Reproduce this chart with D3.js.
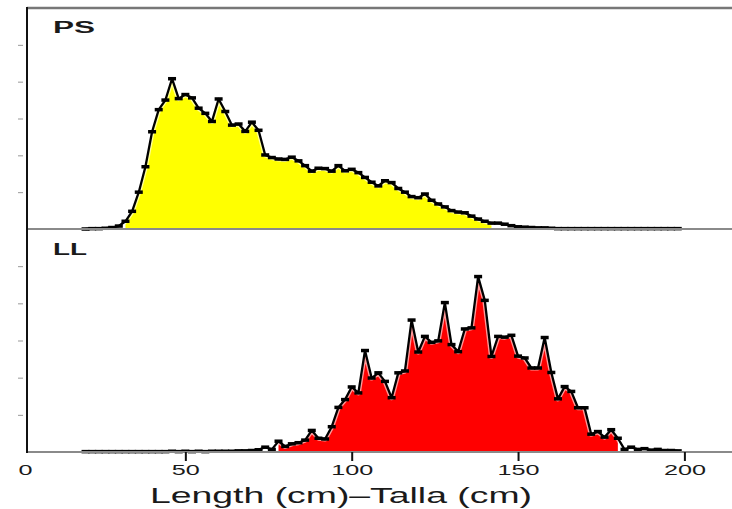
<!DOCTYPE html>
<html>
<head>
<meta charset="utf-8">
<script src="https://cdn.jsdelivr.net/npm/d3@7"></script>
<style>
  html, body { margin: 0; padding: 0; background: #fff; }
  svg { display: block; }
  text { font-family: "Liberation Sans", Arial, sans-serif; fill: #1a1a1a; }
</style>
</head>
<body>
<svg id="chart" width="732" height="509"></svg>
<script>
// ---- data (length class, cm) ----
const lengths = [20,22,24,26,28,30,32,34,36,38,40,42,44,46,48,50,52,54,56,58,60,62,64,66,68,70,72,74,76,78,80,82,84,86,88,90,92,94,96,98,100,102,104,106,108,110,112,114,116,118,120,122,124,126,128,130,132,134,136,138,140,142,144,146,148,150,152,154,156,158,160,162,164,166,168,170,172,174,176,178,180,182,184,186,188,190,192,194,196,198];

// PS (purse seine) relative frequency, in axis-tick units
const psValues = [0.00,0.01,0.01,0.02,0.04,0.08,0.21,0.48,1.00,1.69,2.64,3.24,3.50,4.08,3.54,3.65,3.56,3.28,3.14,2.92,3.53,3.19,2.82,2.85,2.65,2.90,2.68,2.01,1.94,1.90,1.89,1.95,1.85,1.72,1.57,1.65,1.64,1.57,1.72,1.58,1.62,1.53,1.40,1.27,1.17,1.31,1.26,1.10,1.00,0.88,0.85,0.95,0.78,0.68,0.60,0.50,0.46,0.44,0.35,0.27,0.21,0.16,0.16,0.13,0.09,0.06,0.05,0.04,0.03,0.03,0.02,0.01,0.01,0.01,0.01,0.01,0.01,0.01,0.01,0.01,0.01,0.01,0.01,0.01,0.01,0.01,0.01,0.01,0.01,0.01];

// LL (longline) relative frequency, in axis-tick units
const llValues = [0.01,0.01,0.01,0.01,0.01,0.01,0.01,0.01,0.01,0.01,0.01,0.01,0.01,0.02,0.01,0.02,0.01,0.02,0.01,0.02,0.02,0.02,0.02,0.03,0.03,0.04,0.06,0.13,0.07,0.29,0.15,0.22,0.25,0.32,0.58,0.37,0.35,0.68,1.20,1.41,1.75,1.59,2.73,1.99,2.13,1.90,1.46,2.13,2.18,3.55,2.69,3.11,2.95,2.99,4.02,2.89,2.70,3.31,3.34,4.72,4.08,2.57,3.11,3.09,3.14,2.58,2.53,2.26,2.26,3.08,2.14,1.43,1.76,1.63,1.19,1.19,0.48,0.55,0.40,0.60,0.37,0.07,0.13,0.07,0.09,0.05,0.07,0.04,0.04,0.03];

const panelLabels = ["PS", "LL"];
const panelColors = ["#ffff00", "#ff0000"];
const fillRanges = [[32, 142], [78, 180]];
const xTickValues = [0, 50, 100, 150, 200];
const yTickValues = [1, 2, 3, 4, 5];
const xTitle = "Length (cm)\u2013Talla (cm)";

// ---- layout ----
const svg = d3.select("#chart");
const W = 732;
const axisX = 27;
const x = d3.scaleLinear().domain([0, 200]).range([19, 684.4]);
const yScales = [
  d3.scaleLinear().domain([0, 6]).range([229, 8]),
  d3.scaleLinear().domain([0, 6]).range([452, 229])
];
const seriesList = [psValues, llValues];

seriesList.forEach((vals, i) => {
  const y = yScales[i];
  const pts = lengths.map((L, k) => ({ L, v: vals[k] }));
  const fillPts = pts.filter(d => d.L >= fillRanges[i][0] && d.L <= fillRanges[i][1]);
  const g = svg.append("g");

  const area = d3.area().x(d => x(d.L)).y0(y(0)).y1(d => y(d.v));
  g.append("path").datum(fillPts).attr("d", area).attr("fill", panelColors[i]);

  const line = d3.line().x(d => x(d.L)).y(d => y(d.v));
  g.append("path").datum(pts).attr("d", line)
    .attr("fill", "none").attr("stroke", "#fff").attr("stroke-width", 5)
    .attr("stroke-linejoin", "round").attr("opacity", 0.6);
  g.append("path").datum(pts).attr("d", line)
    .attr("fill", "none").attr("stroke", "#000").attr("stroke-width", 2.3)
    .attr("stroke-linejoin", "round");

  g.selectAll("rect.mk").data(pts).enter().append("rect")
    .attr("class", "mk")
    .attr("x", d => x(d.L) - 4).attr("y", d => y(d.v) - 1.75)
    .attr("width", 8).attr("height", 3.5).attr("fill", "#000");

  // baseline (gray)
  svg.append("line").attr("x1", axisX).attr("x2", W)
    .attr("y1", y(0)).attr("y2", y(0))
    .attr("stroke", "#8a8a8a").attr("stroke-width", 2);

  // y ticks (no labels)
  const yAxis = d3.axisLeft(y).tickValues(yTickValues).tickSize(5).tickFormat("");
  const ya = svg.append("g").attr("transform", `translate(${axisX - 4},0)`).call(yAxis);
  ya.select(".domain").remove();
  ya.selectAll(".tick line").attr("stroke", "#999").attr("stroke-width", 1);

  // panel label
  svg.append("text")
    .attr("x", 53).attr("y", y(6) + (i === 0 ? 25 : 26))
    .attr("font-size", 16).attr("font-weight", "bold")
    .attr("textLength", i === 0 ? 42 : 34).attr("lengthAdjust", "spacingAndGlyphs")
    .attr("fill", "#3a3a3a")
    .text(panelLabels[i]);
});

// top border
svg.append("line").attr("x1", axisX).attr("x2", W).attr("y1", 8).attr("y2", 8)
  .attr("stroke", "#777").attr("stroke-width", 2.5);
// left axis
svg.append("line").attr("x1", axisX).attr("x2", axisX).attr("y1", 7).attr("y2", 453)
  .attr("stroke", "#111").attr("stroke-width", 2);

// x axis
const xAxis = d3.axisBottom(x).tickValues(xTickValues).tickSize(9).tickPadding(5)
  .tickFormat(d3.format("d"));
const xa = svg.append("g").attr("transform", "translate(0,452)").call(xAxis);
xa.select(".domain").remove();
xa.selectAll(".tick line").attr("stroke", "#111").attr("stroke-width", 2)
  .attr("opacity", d => d === 0 ? 0 : 1);
xa.selectAll(".tick text")
  .attr("font-family", "'Liberation Sans', Arial, sans-serif")
  .attr("font-size", 14).attr("fill", "#222")
  .attr("dy", "0.71em").attr("y", 13)
  .attr("transform", "scale(1.8,1)")
  .attr("x", d => d === 0 ? 6 / 1.8 : 0);

// x title
svg.append("text")
  .attr("x", 150).attr("y", 503)
  .attr("font-size", 22)
  .attr("textLength", 382).attr("lengthAdjust", "spacingAndGlyphs")
  .attr("fill", "#222")
  .text(xTitle);
</script>
</body>
</html>
